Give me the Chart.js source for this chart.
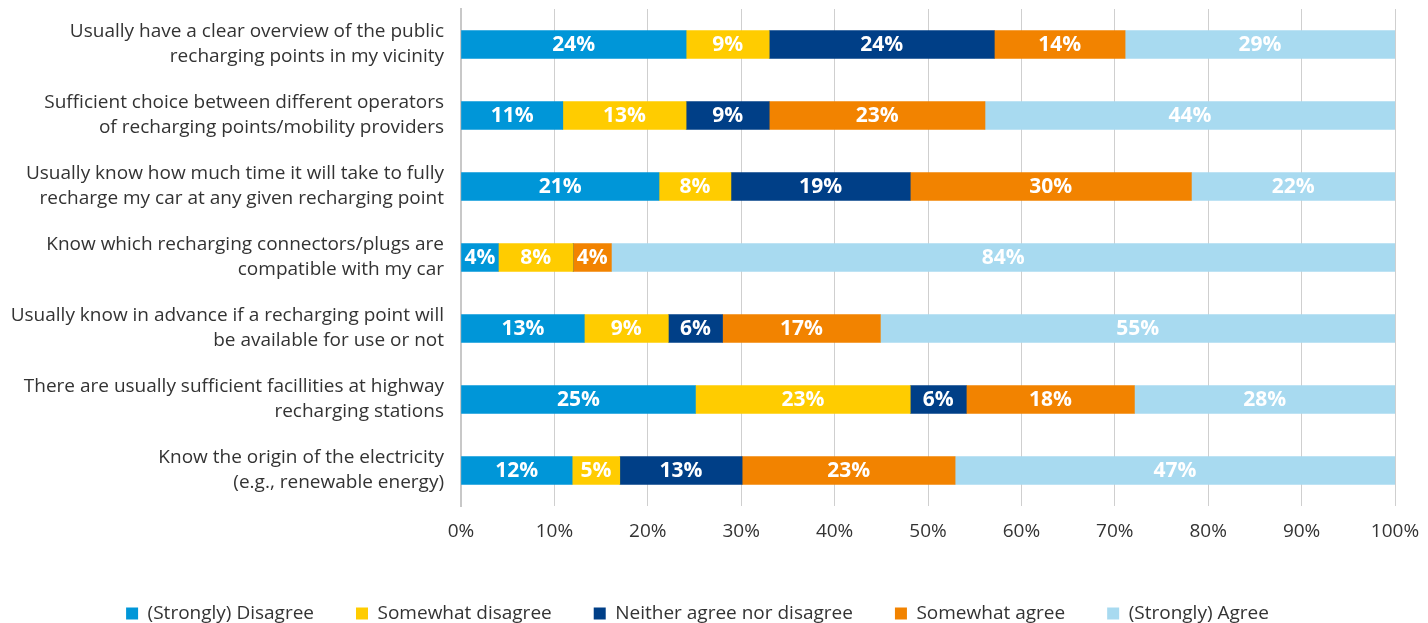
<!DOCTYPE html>
<html>
<head>
<meta charset="utf-8">
<script src="https://cdn.jsdelivr.net/npm/chart.js@4/dist/chart.umd.min.js"></script>
<style>
  html, body { margin: 0; padding: 0; background: #fff; }
  #wrap { width: 1428px; height: 623px; }
</style>
</head>
<body>
<div id="wrap"><canvas id="chart"></canvas></div>
<script>
// Statements (multi-line labels)
const statements = [
  ["Usually have a clear overview of the public", "recharging points in my vicinity"],
  ["Sufficient choice between different operators", "of recharging points/mobility providers"],
  ["Usually know how much time it will take to fully", "recharge my car at any given recharging point"],
  ["Know which recharging connectors/plugs are", "compatible with my car"],
  ["Usually know in advance if a recharging point will", "be available for use or not"],
  ["There are usually sufficient facillities at highway", "recharging stations"],
  ["Know the origin of the electricity", "(e.g., renewable energy)"],
];

// Shares in % per answer
const stronglyDisagree = [24.1, 10.9, 21.2, 4.0, 13.2, 25.1, 11.9];
const somewhatDisagree = [8.9, 13.2, 7.7, 8.0, 9.0, 23.0, 5.1];
const neither = [24.1, 8.9, 19.2, 0, 5.8, 6.0, 13.1];
const somewhatAgree = [14.0, 23.1, 30.1, 4.1, 16.9, 18.0, 22.8];
const stronglyAgree = [28.9, 43.9, 21.8, 83.9, 55.1, 27.9, 47.1];

const xTicks = [0, 10, 20, 30, 40, 50, 60, 70, 80, 90, 100];

// Colors
const colors = {
  stronglyDisagree: "#0096d8",
  somewhatDisagree: "#ffcc00",
  neither: "#003f87",
  somewhatAgree: "#f28300",
  stronglyAgree: "#a8daf0",
  grid: "#cfcfcf",
  text: "#333333",
};

const FONT = "'Open Sans', 'DejaVu Sans', sans-serif";

const makeSet = (label, data, color) => ({
  label: label,
  data: data,
  backgroundColor: color,
  borderWidth: 0,
  barThickness: 28,
});

// Draw the percentage inside each segment
const barLabels = {
  id: "barLabels",
  afterDatasetsDraw(chart) {
    const ctx = chart.ctx;
    ctx.save();
    ctx.font = "bold 21px " + FONT;
    ctx.fillStyle = "#ffffff";
    ctx.textAlign = "center";
    ctx.textBaseline = "middle";
    chart.data.datasets.forEach((ds, i) => {
      const meta = chart.getDatasetMeta(i);
      meta.data.forEach((bar, j) => {
        const v = ds.data[j];
        if (!v) return;
        ctx.fillText(Math.round(v) + "%", (bar.x + bar.base) / 2, bar.y + 1);
      });
    });
    ctx.restore();
  },
};

// Nudge the legend a little lower
const legendShift = {
  id: "legendShift",
  afterLayout(chart) {
    const lg = chart.legend;
    lg.top += 10;
    lg.bottom += 10;
  },
};

new Chart(document.getElementById("chart"), {
  type: "bar",
  data: {
    labels: statements,
    datasets: [
      makeSet("(Strongly) Disagree", stronglyDisagree, colors.stronglyDisagree),
      makeSet("Somewhat disagree", somewhatDisagree, colors.somewhatDisagree),
      makeSet("Neither agree nor disagree", neither, colors.neither),
      makeSet("Somewhat agree", somewhatAgree, colors.somewhatAgree),
      makeSet("(Strongly) Agree", stronglyAgree, colors.stronglyAgree),
    ],
  },
  options: {
    indexAxis: "y",
    responsive: true,
    maintainAspectRatio: false,
    animation: false,
    layout: { padding: { top: 9, right: 33, left: 0, bottom: 0 } },
    scales: {
      x: {
        stacked: true,
        min: 0,
        max: 100,
        afterBuildTicks: (scale) => {
          scale.ticks = xTicks.map((v) => ({ value: v }));
        },
        afterFit: (scale) => {
          scale.height = 46;
          scale.paddingLeft = 0;
          scale.paddingRight = 0;
        },
        ticks: {
          color: colors.text,
          padding: 14,
          maxRotation: 0,
          font: { family: FONT, size: 19 },
          callback: (v) => v + "%",
        },
        grid: { color: colors.grid, lineWidth: 1, drawTicks: false },
        border: { display: false },
      },
      y: {
        stacked: true,
        afterFit: (scale) => {
          scale.width = 461;
          scale.paddingTop = 0;
          scale.paddingBottom = 0;
        },
        ticks: {
          color: colors.text,
          padding: 17,
          font: { family: FONT, size: 19, lineHeight: 1.32 },
        },
        grid: { display: false, drawTicks: false },
        border: { display: true, color: "#c8c8c8", width: 2 },
      },
    },
    plugins: {
      legend: {
        position: "bottom",
        labels: {
          color: colors.text,
          boxWidth: 12,
          boxHeight: 12,
          padding: 42,
          font: { family: FONT, size: 19 },
        },
      },
      tooltip: { enabled: false },
    },
  },
  plugins: [barLabels, legendShift],
});
</script>
</body>
</html>
